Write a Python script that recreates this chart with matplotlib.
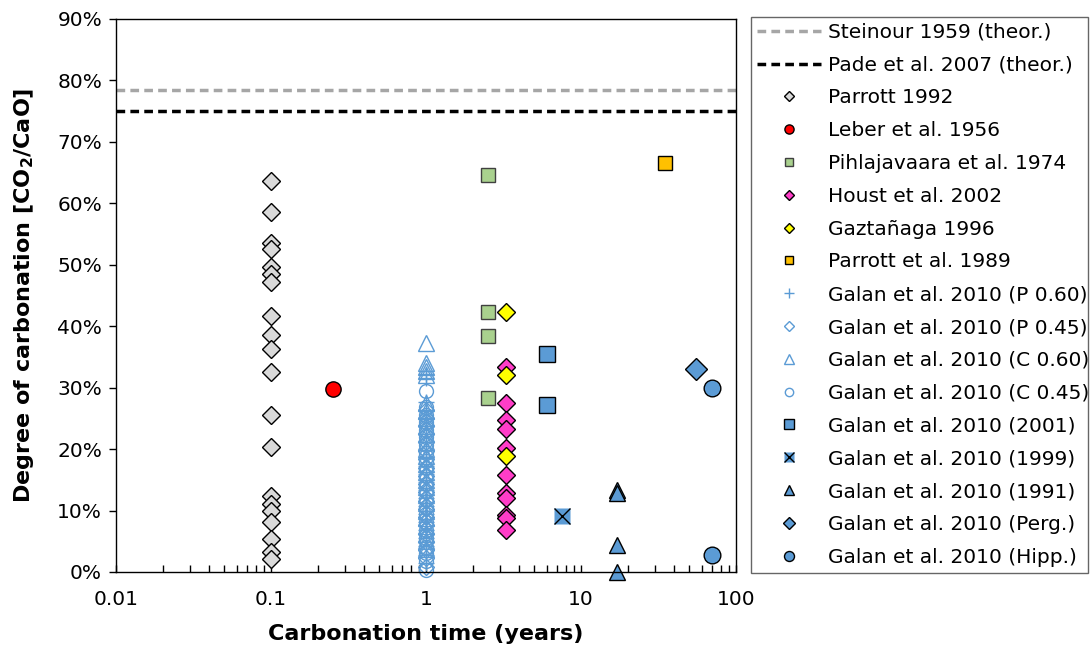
import matplotlib
matplotlib.use('Agg')
import matplotlib.pyplot as plt
from matplotlib.ticker import FixedLocator, LogLocator, NullFormatter
from matplotlib.legend_handler import HandlerTuple

plt.rcParams['font.family'] = ['DejaVu Sans']

blue = '#5B9BD5'

# theoretical maxima (%)
steinour = 78.5
pade = 75.0

# Parrott 1992
parrott92_x = [0.1] * 20
parrott92_y = [63.6, 58.6, 53.6, 52.5, 49.6, 48.5, 47.2, 41.7, 38.5, 36.3,
               32.5, 25.5, 20.3, 12.4, 11.1, 9.9, 8.2, 5.3, 3.3, 2.1]

leber_x = [0.25]
leber_y = [29.8]

pihla_x = [2.5, 2.5, 2.5, 2.5]
pihla_y = [64.6, 42.3, 38.4, 28.3]

houst_x = [3.3] * 11
houst_y = [33.4, 27.5, 24.8, 23.2, 20.2, 15.8, 12.8, 12.0, 9.3, 8.8, 6.9]

gazt_x = [3.3, 3.3, 3.3]
gazt_y = [42.3, 32.1, 18.9]

parrott89_x = [35]
parrott89_y = [66.5]

# Galan et al. 2010, lab series at 1 year
galan_p60_y = [1.5, 2.8, 4.2, 5.5, 6.8, 8.1, 9.4, 10.7, 12.0, 13.3, 14.6, 15.9, 17.2,
               18.5, 19.8, 21.1, 22.4, 23.7, 25.0, 26.3, 27.6, 31.5, 32.2]
galan_p45_y = [0.8, 2.2, 3.5, 4.9, 6.2, 7.6, 8.9, 10.3, 11.6, 13.0, 14.3, 15.7, 17.0,
               18.4, 19.7, 21.1, 22.4, 23.8, 25.1, 26.4]
galan_c60_y = [37.3, 34.0, 33.3, 32.7, 32.0, 27.5, 26.2, 25.0, 23.8, 22.5, 21.2, 20.0,
               18.8, 17.5, 16.2, 15.0, 13.8, 12.5, 11.2, 10.0, 8.8, 7.5, 6.2, 5.0, 3.8]
galan_c45_y = [29.5, 26.8, 25.6, 24.4, 23.1, 21.9, 20.6, 19.4, 18.1, 16.9, 15.6, 14.4,
               13.1, 11.9, 10.6, 9.4, 8.1, 6.9, 5.6, 4.1, 3.1, 1.8, 0.3]

galan01_x = [6.0, 6.0]
galan01_y = [35.5, 27.1]
galan99_x = [7.5]
galan99_y = [9.1]
galan91_x = [17, 17, 17, 17]
galan91_y = [13.3, 12.8, 4.4, 0.0]
galan_perg_x = [55]
galan_perg_y = [33.0]
galan_hipp_x = [70, 70]
galan_hipp_y = [30.0, 2.8]

fig = plt.figure(figsize=(10.91, 6.48), dpi=100)
ax = fig.add_axes([0.1063, 0.1173, 0.5683, 0.8534])

h_st = ax.axhline(steinour, color='#A6A6A6', lw=2.5, ls=(0, (2.5, 1.5)))
h_pa = ax.axhline(pade, color='black', lw=2.5, ls=(0, (2.5, 1.5)))

mk = dict(ls='none', mec='black', mew=1, clip_on=False)
op = dict(ls='none', mec=blue, mew=1, clip_on=False)
h1, = ax.plot(parrott92_x, parrott92_y, 'D', ms=9, mfc='#D9D9D9', **mk)
h2, = ax.plot(leber_x, leber_y, 'o', ms=11, mfc='#FF0000', **mk)
h3, = ax.plot(pihla_x, pihla_y, 's', ms=10, mfc='#A9D18E', mec='#404040', mew=1, ls='none')
h4, = ax.plot(houst_x, houst_y, 'D', ms=9, mfc='#FF3DC8', **mk)
h5, = ax.plot(gazt_x, gazt_y, 'D', ms=9, mfc='#FFFF00', **mk)
h6, = ax.plot(parrott89_x, parrott89_y, 's', ms=10, mfc='#FFC000', **mk)

h7, = ax.plot([1] * len(galan_p60_y), galan_p60_y, '+', ms=11, **op)
h8, = ax.plot([1] * len(galan_p45_y), galan_p45_y, 'D', ms=8, mfc='none', **op)
h9, = ax.plot([1] * len(galan_c60_y), galan_c60_y, '^', ms=11, mfc='none', **op)
h10, = ax.plot([1] * len(galan_c45_y), galan_c45_y, 'o', ms=10, mfc='none', **op)

h11, = ax.plot(galan01_x, galan01_y, 's', ms=11, mfc=blue, **mk)
h12a, = ax.plot(galan99_x, galan99_y, 's', ms=12, mfc=blue, mec='none', ls='none')
h12b, = ax.plot(galan99_x, galan99_y, 'x', ms=11, mec='black', mew=1, ls='none')
h13, = ax.plot(galan91_x, galan91_y, '^', ms=12, mfc=blue, **mk)
h14, = ax.plot(galan_perg_x, galan_perg_y, 'D', ms=11, mfc=blue, **mk)
h15, = ax.plot(galan_hipp_x, galan_hipp_y, 'o', ms=12, mfc=blue, **mk)

ax.set_xscale('log')
ax.set_xlim(0.01, 100)
ax.set_ylim(0, 90)
ax.xaxis.set_major_locator(FixedLocator([0.01, 0.1, 1, 10, 100]))
ax.set_xticklabels(['0.01', '0.1', '1', '10', '100'])
ax.xaxis.set_minor_locator(LogLocator(base=10, subs=range(2, 10)))
ax.xaxis.set_minor_formatter(NullFormatter())
ax.set_yticks(range(0, 91, 10))
ax.set_yticklabels([f'{v}%' for v in range(0, 91, 10)])
ax.tick_params(axis='x', which='both', direction='in', length=5, width=1, labelsize=14.5, pad=13)
ax.tick_params(axis='y', direction='out', length=5, width=1, labelsize=14.5, pad=5)
for s in ax.spines.values():
    s.set_linewidth(1)

ax.set_xlabel('Carbonation time (years)', fontsize=16, fontweight='bold', labelpad=11)
ax.set_ylabel(r'Degree of carbonation [CO$_\mathbf{2}$/CaO]', fontsize=16, fontweight='bold', labelpad=15)

handles = [h_st, h_pa, h1, h2, h3, h4, h5, h6, h7, h8, h9, h10, h11, (h12a, h12b), h13, h14, h15]
labels = ['Steinour 1959 (theor.)', 'Pade et al. 2007 (theor.)', 'Parrott 1992', 'Leber et al. 1956',
          'Pihlajavaara et al. 1974', 'Houst et al. 2002', 'Gaztañaga 1996', 'Parrott et al. 1989',
          'Galan et al. 2010 (P 0.60)', 'Galan et al. 2010 (P 0.45)', 'Galan et al. 2010 (C 0.60)',
          'Galan et al. 2010 (C 0.45)', 'Galan et al. 2010 (2001)', 'Galan et al. 2010 (1999)',
          'Galan et al. 2010 (1991)', 'Galan et al. 2010 (Perg.)', 'Galan et al. 2010 (Hipp.)']
leg = fig.legend(handles, labels, loc='upper left', bbox_to_anchor=(0.688, 0.974, 0.309, 0.0),
                 mode='expand', fontsize=14.5, markerscale=0.6, handlelength=3.2, handletextpad=0.35,
                 labelspacing=0.685, frameon=True, fancybox=False, edgecolor='#404040', borderpad=0.3,
                 borderaxespad=0, handler_map={tuple: HandlerTuple(ndivide=1)})
leg.get_frame().set_linewidth(1)

fig.savefig('out.png', dpi=100)
